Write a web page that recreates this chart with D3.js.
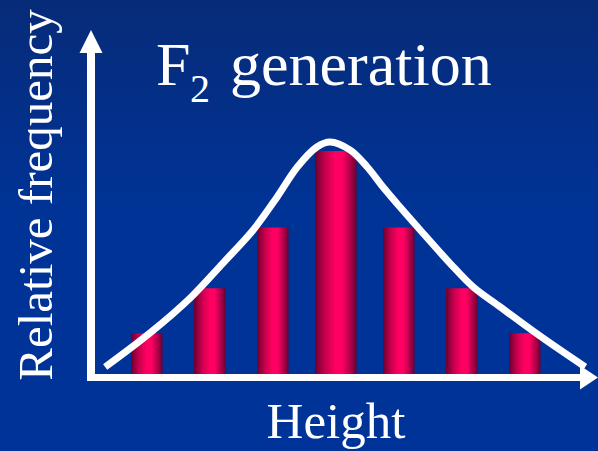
<!DOCTYPE html>
<html>
<head>
<meta charset="utf-8">
<script src="https://cdn.jsdelivr.net/npm/d3@7"></script>
<style>
  html, body { margin: 0; padding: 0; background: #003399; }
  svg { display: block; }
</style>
</head>
<body>
<svg id="chart" width="598" height="451"></svg>
<script>
// height classes, relative frequency of each class
const classes = ['c1', 'c2', 'c3', 'c4', 'c5', 'c6', 'c7']
const freq = [1.9, 3.9, 6.6, 10, 6.6, 3.9, 1.9]

// hand drawn bell curve, x in class units, y in frequency units
const curveX = [-0.66, 0.05, 0.69, 1.21, 1.69, 2.07, 2.39, 2.7, 2.91, 3.23, 3.5, 3.75, 4.02, 4.34, 4.81, 5.18, 5.61, 6.24, 6.96]
const curveY = [0.4, 1.91, 3.47, 5.02, 6.49, 7.96, 9.29, 10.18, 10.4, 10.04, 9.29, 8.4, 7.51, 6.49, 5.02, 3.96, 3.07, 1.78, 0.4]

const title = 'generation'
const xLabel = 'Height'
const yLabel = 'Relative frequency'

const svg = d3.select('#chart')
const width = 598
const height = 451

const defs = svg.append('defs')

const bg = defs.append('linearGradient')
  .attr('id', 'bg')
  .attr('x1', 0).attr('y1', 0).attr('x2', 0).attr('y2', 1)
bg.append('stop').attr('offset', '0%').attr('stop-color', '#072b78')
bg.append('stop').attr('offset', '45%').attr('stop-color', '#003396')
bg.append('stop').attr('offset', '100%').attr('stop-color', '#003399')

const barGrad = defs.append('linearGradient')
  .attr('id', 'bar')
  .attr('x1', 0).attr('y1', 0).attr('x2', 1).attr('y2', 0)
barGrad.append('stop').attr('offset', '0%').attr('stop-color', '#6a0030')
barGrad.append('stop').attr('offset', '25%').attr('stop-color', '#c8004c')
barGrad.append('stop').attr('offset', '50%').attr('stop-color', '#ff0062')
barGrad.append('stop').attr('offset', '65%').attr('stop-color', '#ff0062')
barGrad.append('stop').attr('offset', '85%').attr('stop-color', '#b0004a')
barGrad.append('stop').attr('offset', '100%').attr('stop-color', '#6a0030')

svg.append('rect')
  .attr('width', width)
  .attr('height', height)
  .attr('fill', 'url(#bg)')

// scales
const x = d3.scaleBand()
  .domain(classes)
  .range([99.5, 572])
  .paddingInner(0.5)
  .paddingOuter(0.5)

const xLin = d3.scaleLinear()
  .domain([0, classes.length - 1])
  .range([x(classes[0]) + x.bandwidth() / 2, x(classes[classes.length - 1]) + x.bandwidth() / 2])

const y = d3.scaleLinear()
  .domain([0, 10])
  .range([376, 151])

// bars
svg.append('g')
  .selectAll('rect')
  .data(freq)
  .join('rect')
  .attr('x', (d, i) => x(classes[i]) - (i === 3 ? 5 : 0))
  .attr('width', (d, i) => x.bandwidth() + (i === 3 ? 10 : 0))
  .attr('y', d => y(d))
  .attr('height', d => y(0) - y(d))
  .attr('fill', 'url(#bar)')

// curve
const line = d3.line()
  .x(d => xLin(d[0]))
  .y(d => y(d[1]))
  .curve(d3.curveCatmullRom.alpha(0.5))

svg.append('path')
  .datum(curveX.map((v, i) => [v, curveY[i]]))
  .attr('d', line)
  .attr('fill', 'none')
  .attr('stroke', '#fff')
  .attr('stroke-width', 7)

// axes
const ax0 = 91
const ay0 = 377.5
svg.append('path')
  .attr('d', `M${ax0},${ay0 + 3.5}V48`)
  .attr('stroke', '#fff')
  .attr('stroke-width', 8)
svg.append('path')
  .attr('d', `M${ax0 - 4},${ay0}H584`)
  .attr('stroke', '#fff')
  .attr('stroke-width', 7)
svg.append('path')
  .attr('d', `M${ax0},30L${ax0 + 11.5},53L${ax0 - 11.5},53Z`)
  .attr('fill', '#fff')
svg.append('path')
  .attr('d', `M598,${ay0}L580,${ay0 - 12}L580,${ay0 + 12}Z`)
  .attr('fill', '#fff')

// texts
const font = '"Liberation Serif", "Times New Roman", serif'

const t = svg.append('text')
  .attr('y', 85)
  .attr('fill', '#fff')
  .attr('font-family', font)
  .attr('font-size', 62)
t.append('tspan').attr('x', 156).text('F')
t.append('tspan').attr('x', 190).attr('y', 102).attr('font-size', 40).text('2')
t.append('tspan').attr('x', 230).attr('y', 85).text(title)

svg.append('text')
  .attr('x', 336)
  .attr('y', 438)
  .attr('text-anchor', 'middle')
  .attr('fill', '#fff')
  .attr('font-family', font)
  .attr('font-size', 51)
  .text(xLabel)

svg.append('text')
  .attr('transform', 'translate(52,195) rotate(-90)')
  .attr('text-anchor', 'middle')
  .attr('fill', '#fff')
  .attr('font-family', font)
  .attr('font-size', 49)
  .text(yLabel)
</script>
</body>
</html>
